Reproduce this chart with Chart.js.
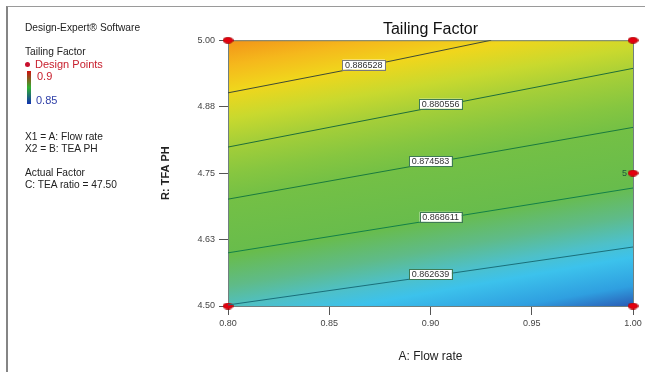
<!DOCTYPE html>
<html>
<head>
<meta charset="utf-8">
<script src="https://cdn.jsdelivr.net/npm/chart.js@4.4.1/dist/chart.umd.min.js"></script>
<style>
  body { margin: 0; background: #fff; font-family: Arial, "Liberation Sans", sans-serif; }
  #wrap { position: relative; width: 645px; height: 372px; overflow: hidden; }
  #frame { position: absolute; left: 6px; top: 6px; width: 700px; height: 400px;
           border-left: 2px solid #858585; border-top: 1px solid #9a9a9a; }
  canvas { position: absolute; left: 0; top: 0; }
  #side { position: absolute; left: 0; top: 0; font-size: 10.2px; color: #222; line-height: 12px; }
  #side div { position: absolute; white-space: nowrap; }
  .dot { display: inline-block; width: 5px; height: 5px; border-radius: 50%; background: #c8102e;
         margin-right: 5px; vertical-align: 1px; }
</style>
</head>
<body>
<div id="wrap">
  <div id="frame"></div>
  <canvas id="contourChart" width="645" height="372"></canvas>
  <div id="side">
    <div style="left:25px;top:22px">Design-Expert® Software</div>
    <div style="left:25px;top:46px">Tailing Factor</div>
    <div style="left:25px;top:58px;color:#c8202e;font-size:11px"><span class="dot"></span>Design Points</div>
    <div style="left:27px;top:71px;width:4px;height:33px;background:linear-gradient(#d01010,#30b030 50%,#1030b0)"></div>
    <div style="left:37px;top:70px;color:#c8202e;font-size:11px">0.9</div>
    <div style="left:36px;top:94px;color:#3040a8;font-size:11px">0.85</div>
    <div style="left:25px;top:131px">X1 = A: Flow rate</div>
    <div style="left:25px;top:143px">X2 = B: TEA PH</div>
    <div style="left:25px;top:167px">Actual Factor</div>
    <div style="left:25px;top:179px">C: TEA ratio = 47.50</div>
  </div>
</div>
<script>
// axis ticks
var flowTicks = [0.80, 0.85, 0.90, 0.95, 1.00];
var phTicks = [4.50, 4.625, 4.75, 4.875, 5.00];
var phTickLabels = ['4.50', '4.63', '4.75', '4.88', '5.00'];

// contour lines (flow rate / pH pairs)
var contourLevels = [0.886528, 0.880556, 0.874583, 0.868611, 0.862639];
var contourFlow = [
  [0.80, 0.868, 0.930],
  [0.80, 0.90, 1.00],
  [0.80, 0.90, 1.00],
  [0.80, 0.90, 1.00],
  [0.80, 0.90, 1.00]
];
var contourPH = [
  [4.901, 4.951, 5.000],
  [4.799, 4.873, 4.947],
  [4.701, 4.769, 4.836],
  [4.600, 4.661, 4.722],
  [4.502, 4.556, 4.611]
];
// where along flow rate each contour label sits
var labelFlow = [0.867, 0.905, 0.900, 0.905, 0.900];

// design points
var designFlow = [0.80, 1.00, 1.00, 0.80, 1.00];
var designPH = [5.00, 5.00, 4.75, 4.50, 4.50];
var designReps = [1, 1, 5, 1, 1];

var lineColors = ['#3e4a36', '#1f6e3a', '#1a7a3e', '#138048', '#1a6f7a'];
var labelBorders = ['#7a7a7a', '#3f7a55', '#3f7a55', '#3f7a55', '#3f7a55'];

Chart.defaults.font.family = 'Arial, "Liberation Sans", sans-serif';

// red elliptical marker
var marker = document.createElement('canvas');
marker.width = 11; marker.height = 7;
var mg = marker.getContext('2d');
mg.fillStyle = '#e3000f';
mg.beginPath(); mg.ellipse(5.5, 3.5, 5, 3, 0, 0, 2 * Math.PI); mg.fill();
mg.strokeStyle = '#a00000'; mg.lineWidth = 0.8; mg.stroke();

function toPoints(xs, ys) {
  return xs.map(function (x, i) { return { x: x, y: ys[i] }; });
}

function phOnContour(i, x) {
  var xs = contourFlow[i], ys = contourPH[i];
  for (var k = 0; k < xs.length - 1; k++) {
    if (x <= xs[k + 1]) {
      return ys[k] + (ys[k + 1] - ys[k]) * (x - xs[k]) / (xs[k + 1] - xs[k]);
    }
  }
  return ys[ys.length - 1];
}

var datasets = contourLevels.map(function (lvl, i) {
  return {
    label: String(lvl),
    data: toPoints(contourFlow[i], contourPH[i]),
    showLine: true,
    borderColor: lineColors[i],
    borderWidth: 1,
    pointRadius: 0,
    tension: 0
  };
});
datasets.push({
  label: 'Design Points',
  data: toPoints(designFlow, designPH),
  pointStyle: marker,
  pointRadius: 5,
  clip: false
});

// colour field behind the contours
var fieldStops = [
  [0.00, '#f29418'], [0.075, '#f5b81c'], [0.15, '#f0d61c'], [0.233, '#c9d92e'],
  [0.307, '#a6cf38'], [0.40, '#86c640'], [0.47, '#74c045'], [0.64, '#68bc4c'],
  [0.73, '#5fbb88'], [0.80, '#4ec0c8'], [0.855, '#3cc2ec'], [0.94, '#2f9fe0'],
  [1.00, '#2a5cb5']
];

var fieldPlugin = {
  id: 'field',
  beforeDatasetsDraw: function (chart) {
    var a = chart.chartArea, ctx = chart.ctx;
    var s = 0.175;
    var cx = (a.left + a.right) / 2;
    var y0 = a.top + s * (a.left - cx);
    var y1 = a.bottom + s * (a.right - cx);
    var c = (y1 - y0) / (1 + s * s);
    var grad = ctx.createLinearGradient(cx, y0, cx + c * s, y0 + c);
    fieldStops.forEach(function (st) { grad.addColorStop(st[0], st[1]); });
    ctx.save();
    ctx.fillStyle = grad;
    ctx.fillRect(a.left, a.top, a.right - a.left, a.bottom - a.top);
    ctx.strokeStyle = '#6f7f7f';
    ctx.lineWidth = 1;
    ctx.strokeRect(a.left + 0.5, a.top + 0.5, a.right - a.left, a.bottom - a.top);
    ctx.restore();
  },
  afterDatasetsDraw: function (chart) {
    var ctx = chart.ctx, xs = chart.scales.x, ys = chart.scales.y;
    ctx.save();
    ctx.font = '9px Arial, "Liberation Sans", sans-serif';
    ctx.textAlign = 'center';
    ctx.textBaseline = 'middle';
    contourLevels.forEach(function (lvl, i) {
      var px = xs.getPixelForValue(labelFlow[i]);
      var py = ys.getPixelForValue(phOnContour(i, labelFlow[i])) - 2;
      var txt = lvl.toFixed(6);
      var w = ctx.measureText(txt).width + 5, h = 10;
      ctx.fillStyle = '#ffffff';
      ctx.fillRect(px - w / 2, py - h / 2, w, h);
      ctx.strokeStyle = labelBorders[i];
      ctx.lineWidth = 1;
      ctx.strokeRect(Math.round(px - w / 2) + 0.5, Math.round(py - h / 2) + 0.5, Math.round(w), h);
      ctx.fillStyle = '#333';
      ctx.fillText(txt, px, py + 0.5);
    });
    ctx.textAlign = 'right';
    ctx.fillStyle = '#1d5a3a';
    designReps.forEach(function (r, i) {
      if (r > 1) {
        ctx.fillText(String(r), xs.getPixelForValue(designFlow[i]) - 6, ys.getPixelForValue(designPH[i]));
      }
    });
    ctx.restore();
  }
};

var chart = new Chart(document.getElementById('contourChart'), {
  type: 'scatter',
  data: { datasets: datasets },
  plugins: [fieldPlugin],
  options: {
    responsive: false,
    animation: false,
    devicePixelRatio: 1,
    layout: { padding: { left: 155, right: 12, top: 20, bottom: 8 } },
    plugins: {
      legend: { display: false },
      tooltip: { enabled: false },
      title: {
        display: true,
        text: 'Tailing Factor',
        fullSize: false,
        color: '#111',
        font: { size: 16, weight: 'normal' },
        padding: { top: 0, bottom: 1 }
      }
    },
    scales: {
      x: {
        type: 'linear',
        min: 0.80,
        max: 1.00,
        afterBuildTicks: function (s) { s.ticks = flowTicks.map(function (v) { return { value: v }; }); },
        afterFit: function (s) { s.height = 58; },
        ticks: {
          color: '#444',
          font: { size: 9 },
          padding: 3,
          maxRotation: 0,
          callback: function (v) { return Number(v).toFixed(2); }
        },
        grid: { drawOnChartArea: false, drawTicks: true, tickLength: 9, color: '#555' },
        border: { display: false },
        title: { display: true, text: 'A: Flow rate', color: '#222', font: { size: 12 }, padding: { top: 0, bottom: 0 } }
      },
      y: {
        type: 'linear',
        min: 4.50,
        max: 5.00,
        afterBuildTicks: function (s) { s.ticks = phTicks.map(function (v) { return { value: v }; }); },
        afterFit: function (s) { s.width = 73; },
        ticks: {
          color: '#444',
          font: { size: 9 },
          padding: 4,
          callback: function (v, i) { return phTickLabels[i]; }
        },
        grid: { drawOnChartArea: false, drawTicks: true, tickLength: 9, color: '#555' },
        border: { display: false },
        title: { display: true, text: 'R: TFA PH', color: '#222', font: { size: 11, weight: 'bold' }, padding: { top: 4, bottom: 4 } }
      }
    }
  }
});
</script>
</body>
</html>
